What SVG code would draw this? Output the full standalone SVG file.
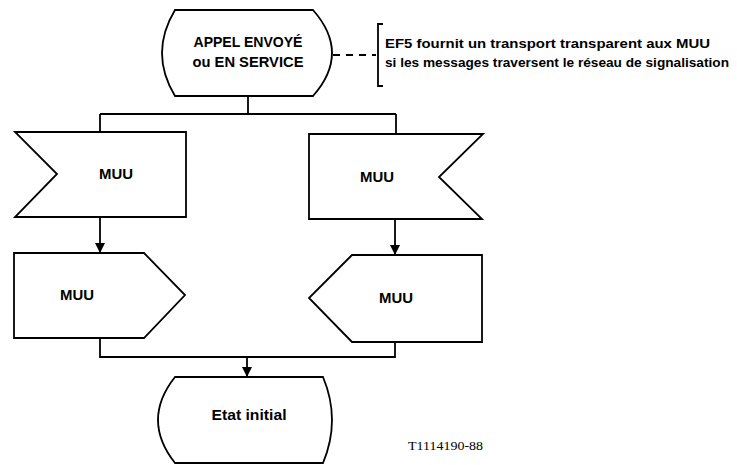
<svg xmlns="http://www.w3.org/2000/svg" width="737" height="465" viewBox="0 0 737 465">
<style>
.s{fill:#fff;stroke:#000;stroke-width:1.8;stroke-linejoin:miter}
.c{fill:none;stroke:#000;stroke-width:1.8}
.t{font-family:"Liberation Sans",Arial,sans-serif;font-size:15px;font-weight:bold;fill:#000;text-anchor:middle}
.n{font-family:"Liberation Sans",Arial,sans-serif;font-size:13.5px;font-weight:bold;fill:#000}
.cap{font-family:"Liberation Serif","Times New Roman",serif;font-size:12px;fill:#000}
</style>
<defs>
<marker id="ah" viewBox="0 0 10 10" refX="10" refY="5" markerWidth="10" markerHeight="10" markerUnits="userSpaceOnUse" orient="auto">
<path d="M0,0 L10,5 L0,10 Z" fill="#000"/>
</marker>
</defs>
<g id="connectors">
<path class="c" d="M248,96 V114 M100,114 H396 M100,114 V132 M396,114 V134"/>
<path class="c" d="M100,217 V253" marker-end="url(#ah)"/>
<path class="c" d="M395,219 V255" marker-end="url(#ah)"/>
<path class="c" d="M100,338 V357 H395 V342"/>
<path class="c" d="M247,357 V377" marker-end="url(#ah)"/>
<path class="c" d="M333,55 H376" stroke-dasharray="7 6"/>
</g>
<g id="start">
<path class="s" d="M175,10 H313 Q351,53 313,96 H175 Q149,53 175,10 Z"/>
<text class="t" x="248" y="47" textLength="109" lengthAdjust="spacingAndGlyphs">APPEL ENVOYÉ</text>
<text class="t" x="248" y="67" textLength="111" lengthAdjust="spacingAndGlyphs">ou EN SERVICE</text>
</g>
<g id="comment">
<path class="c" d="M383,24 H378 V86 H383"/>
<text class="n" x="385" y="48" textLength="325" lengthAdjust="spacingAndGlyphs">EF5 fournit un transport transparent aux MUU</text>
<text class="n" x="385" y="67" textLength="344" lengthAdjust="spacingAndGlyphs">si les messages traversent le réseau de signalisation</text>
</g>
<g id="in-left">
<path class="s" d="M15,132 H186 V217 H15 L57,174 Z"/>
<text class="t" x="116" y="179" textLength="34" lengthAdjust="spacingAndGlyphs">MUU</text>
</g>
<g id="in-right">
<path class="s" d="M309,134 H483 L439,177 L482,219 H309 Z"/>
<text class="t" x="377" y="182" textLength="34" lengthAdjust="spacingAndGlyphs">MUU</text>
</g>
<g id="out-left">
<path class="s" d="M14,253 H144 L185,295 L144,338 H14 Z"/>
<text class="t" x="77" y="300" textLength="34" lengthAdjust="spacingAndGlyphs">MUU</text>
</g>
<g id="out-right">
<path class="s" d="M352,255 H482 V342 H352 L309,298 Z"/>
<text class="t" x="396" y="303" textLength="34" lengthAdjust="spacingAndGlyphs">MUU</text>
</g>
<g id="end">
<path class="s" d="M175,377 H323 Q341,420 323,463 H175 Q141,420 175,377 Z"/>
<text class="t" x="249" y="420" textLength="75" lengthAdjust="spacingAndGlyphs">Etat initial</text>
</g>
<text class="cap" x="408" y="450" textLength="75" lengthAdjust="spacingAndGlyphs">T1114190-88</text>
</svg>
